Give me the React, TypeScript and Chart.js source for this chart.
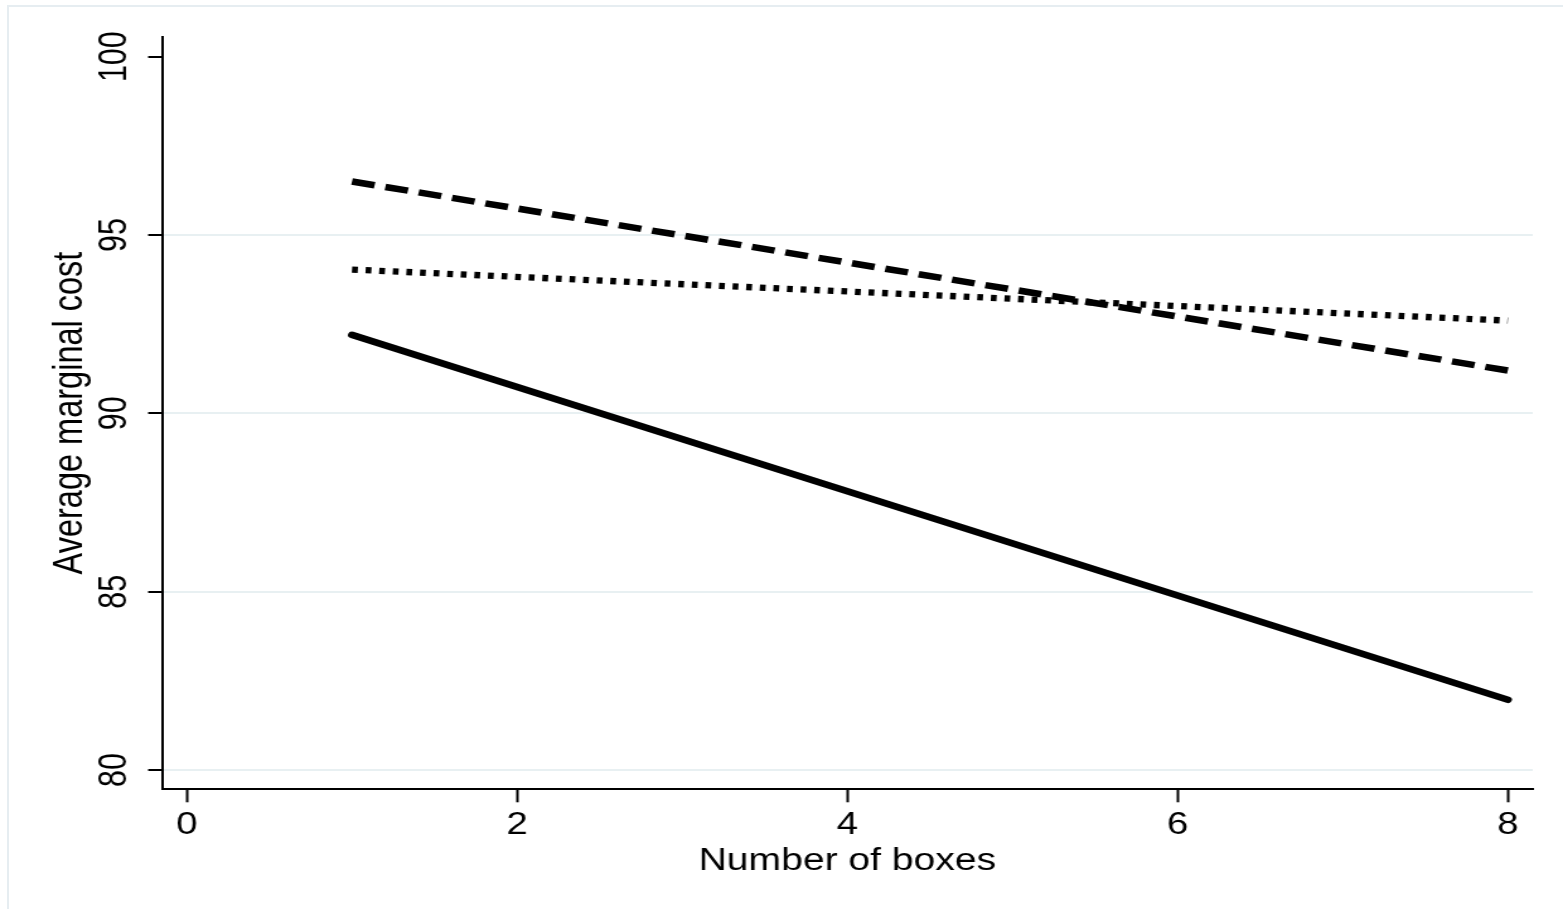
import React, { useEffect, useRef } from "react";
import { Chart, registerables } from "chart.js";

Chart.register(...registerables);

// ---- data ----
const boxes = [1, 8];
const solidCost = [92.2, 81.97];
const dashedCost = [96.5, 91.2];
const dottedCost = [94.03, 92.6];
const xTickValues = [0, 2, 4, 6, 8];
const yTickValues = [80, 85, 90, 95, 100];
const xTitle = "Number of boxes";
const yTitle = "Average marginal cost";

const FONT = "'Liberation Sans', Arial, Helvetica, sans-serif";
const INTERNAL_W = 1240;
const INTERNAL_H = 909;

const toPoints = (ys: number[]) => boxes.map((x, i) => ({ x, y: ys[i] }));

export default function App() {
  const ref = useRef<HTMLCanvasElement>(null);

  useEffect(() => {
    if (!ref.current) return;
    const chart = new Chart(ref.current, {
      type: "line",
      data: {
        datasets: [
          {
            label: "solid",
            data: toPoints(solidCost),
            borderColor: "#000",
            borderWidth: 6.5,
            borderCapStyle: "round",
            pointRadius: 0,
            tension: 0,
          },
          {
            label: "dotted",
            data: toPoints(dottedCost),
            borderColor: "#000",
            borderWidth: 6.3,
            borderDash: [4.6, 6.2],
            borderCapStyle: "butt",
            pointRadius: 0,
            tension: 0,
          },
          {
            label: "dashed",
            data: toPoints(dashedCost),
            borderColor: "#000",
            borderWidth: 6.5,
            borderDash: [18.3, 8.7],
            borderCapStyle: "butt",
            pointRadius: 0,
            tension: 0,
          },
        ],
      },
      options: {
        animation: false,
        responsive: false,
        devicePixelRatio: 1,
        layout: { padding: { left: 0, top: 36.7, right: 24, bottom: 0 } },
        plugins: {
          legend: { display: false },
          tooltip: { enabled: false },
        },
        scales: {
          x: {
            type: "linear",
            min: -0.151,
            max: 8.151,
            afterBuildTicks: (s: any) => {
              s.ticks = xTickValues.map((v) => ({ value: v }));
            },
            afterFit: (s: any) => {
              s.height = 119.7;
            },
            ticks: {
              color: "#000",
              font: { family: FONT, size: 30.5 },
              padding: 5,
              maxRotation: 0,
              minRotation: 0,
            },
            grid: {
              drawOnChartArea: false,
              tickLength: 13,
              tickColor: "#000",
              tickWidth: 2,
            },
            border: { color: "#000", width: 2 },
            title: {
              display: true,
              text: xTitle,
              color: "#000",
              font: { family: FONT, size: 31, lineHeight: 1.2 },
              padding: { top: 0, bottom: 29 },
            },
          },
          y: {
            type: "linear",
            min: 79.46,
            max: 100.56,
            afterBuildTicks: (s: any) => {
              s.ticks = yTickValues.map((v) => ({ value: v }));
            },
            afterFit: (s: any) => {
              s.width = 128.5;
            },
            ticks: {
              color: "#000",
              font: { family: FONT, size: 30.5 },
              padding: 0,
              minRotation: 90,
              maxRotation: 90,
              crossAlign: "center",
            },
            grid: {
              color: (ctx: any) =>
                ctx.tick && ctx.tick.value === 100 ? "rgba(0,0,0,0)" : "#e8f0f2",
              lineWidth: 2,
              tickLength: 11,
              tickColor: "#000",
              tickWidth: 2,
            },
            border: { color: "#000", width: 2 },
            title: {
              display: true,
              text: yTitle,
              color: "#000",
              font: { family: FONT, size: 32.5, lineHeight: 1.2 },
              padding: { top: 36.8, bottom: 0 },
            },
          },
        },
      },
    } as any);
    return () => chart.destroy();
  }, []);

  return (
    <div
      style={{
        position: "fixed",
        left: 0,
        top: 0,
        width: 1563,
        height: 909,
        background: "#fff",
        overflow: "hidden",
      }}
    >
      <div
        style={{
          position: "absolute",
          left: 7,
          top: 5,
          right: -10,
          bottom: -10,
          borderLeft: "2px solid #e6edf1",
          borderTop: "2px solid #e6edf1",
        }}
      />
      <canvas
        ref={ref}
        width={INTERNAL_W}
        height={INTERNAL_H}
        style={{ position: "absolute", left: 0, top: 0, width: "1563px", height: "909px" }}
      />
    </div>
  );
}
